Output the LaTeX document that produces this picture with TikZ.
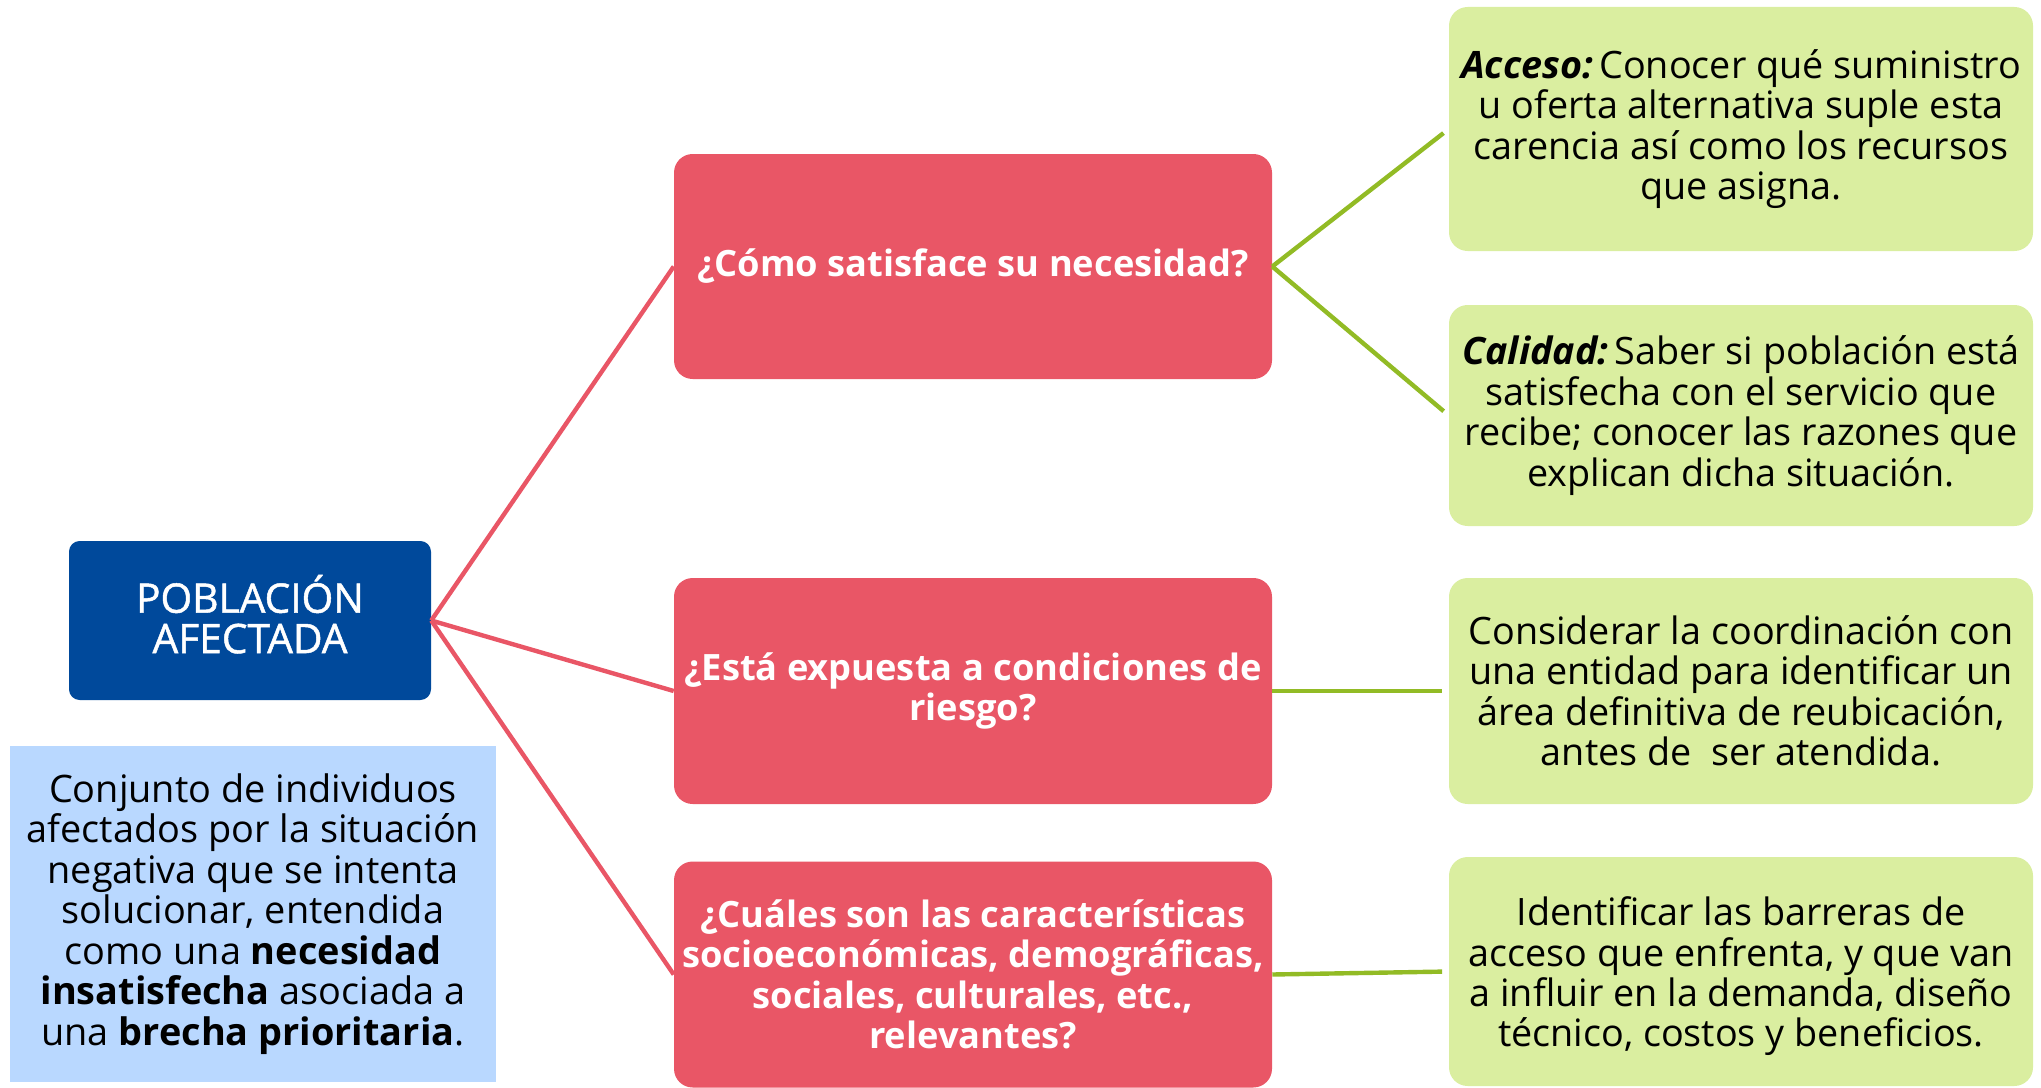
\documentclass[tikz,border=0pt]{standalone}
\usepackage{fontspec}
\setmainfont{Open Sans}
\newfontfamily\hubfont[FakeBold=1.2]{Open Sans}
\definecolor{hubblue}{RGB}{0,73,155}
\definecolor{qred}{RGB}{233,86,102}
\definecolor{agreen}{RGB}{218,238,160}
\definecolor{lgreen}{RGB}{146,187,37}
\definecolor{lblue}{RGB}{185,216,255}
\begin{document}
\begin{tikzpicture}[x=0.75pt,y=-0.75pt,
  hubbox/.style={fill=hubblue,rounded corners=8pt,text=white,align=center,inner sep=0pt,font=\hubfont\fontsize{30.5}{30.3}\selectfont},
  defbox/.style={fill=lblue,align=center,inner sep=0pt,font=\fontsize{28.4}{30.4}\selectfont},
  qbox/.style={fill=qred,rounded corners=14pt,text=white,align=center,inner sep=0pt,font=\bfseries\fontsize{27.2}{30.3}\selectfont},
  abox/.style={fill=agreen,rounded corners=14pt,align=center,inner sep=0pt,font=\fontsize{28.3}{30.3}\selectfont},
  redline/.style={draw=qred,line width=3.3pt},
  greenline/.style={draw=lgreen,line width=3.3pt,shorten >=5pt}]
\useasboundingbox (0,0) rectangle (2041,1088);
\node[hubbox,minimum width=0.75pt*362,minimum height=0.75pt*159] (hub) at (250,620.5) {POBLACIÓN\\AFECTADA\rule[-9.8pt]{0pt}{0pt}};
\node[defbox,minimum width=0.75pt*486,minimum height=0.75pt*336] (def) at (253,914)
 {Conjunto de individuos\\afectados por la situación\\negativa que se intenta\\solucionar, entendida\\como una \textbf{necesidad}\\\textbf{insatisfecha} asociada a\\una \textbf{brecha prioritaria}.};
\node[qbox,minimum width=0.75pt*598,minimum height=0.75pt*225] (q1) at (973,266.5) {¿Cómo satisface su necesidad?};
\node[qbox,minimum width=0.75pt*598,minimum height=0.75pt*226] (q2) at (973,691) {¿Está expuesta a condiciones de\\riesgo?};
\node[qbox,minimum width=0.75pt*598,minimum height=0.75pt*226] (q3) at (973,974.5) {¿Cuáles son las características\\socioeconómicas, demográficas,\\sociales, culturales, etc.,\\relevantes?};
\node[abox,minimum width=0.75pt*584,minimum height=0.75pt*244] (a1) at (1741,129) {\textbf{\textit{Acceso:}}\,Conocer qué suministro\\u oferta alternativa suple esta\\carencia así como los recursos\\que asigna.};
\node[abox,minimum width=0.75pt*584,minimum height=0.75pt*221] (a2) at (1741,415.5) {\textbf{\textit{Calidad:}}\,Saber si población está\\satisfecha con el servicio que\\recibe; conocer las razones que\\explican dicha situación.};
\node[abox,minimum width=0.75pt*584,minimum height=0.75pt*226] (a3) at (1741,691) {Considerar la coordinación con\\una entidad para identificar un\\área definitiva de reubicación,\\antes de\ \ ser atendida.};
\node[abox,minimum width=0.75pt*584,minimum height=0.75pt*229] (a4) at (1741,971.5) {\rule{0pt}{29pt}Identificar las barreras de\\acceso que enfrenta, y que van\\a influir en la demanda, diseño\\técnico, costos y beneficios.};
\draw[redline] (hub.east) -- (q1.west);
\draw[redline] (hub.east) -- (q2.west);
\draw[redline] (hub.east) -- (q3.west);
\draw[greenline] (q1.east) -- (a1.west);
\draw[greenline] (q1.east) -- (a2.west);
\draw[greenline] (q2.east) -- (a3.west);
\draw[greenline] (q3.east) -- (a4.west);
\end{tikzpicture}
\end{document}
